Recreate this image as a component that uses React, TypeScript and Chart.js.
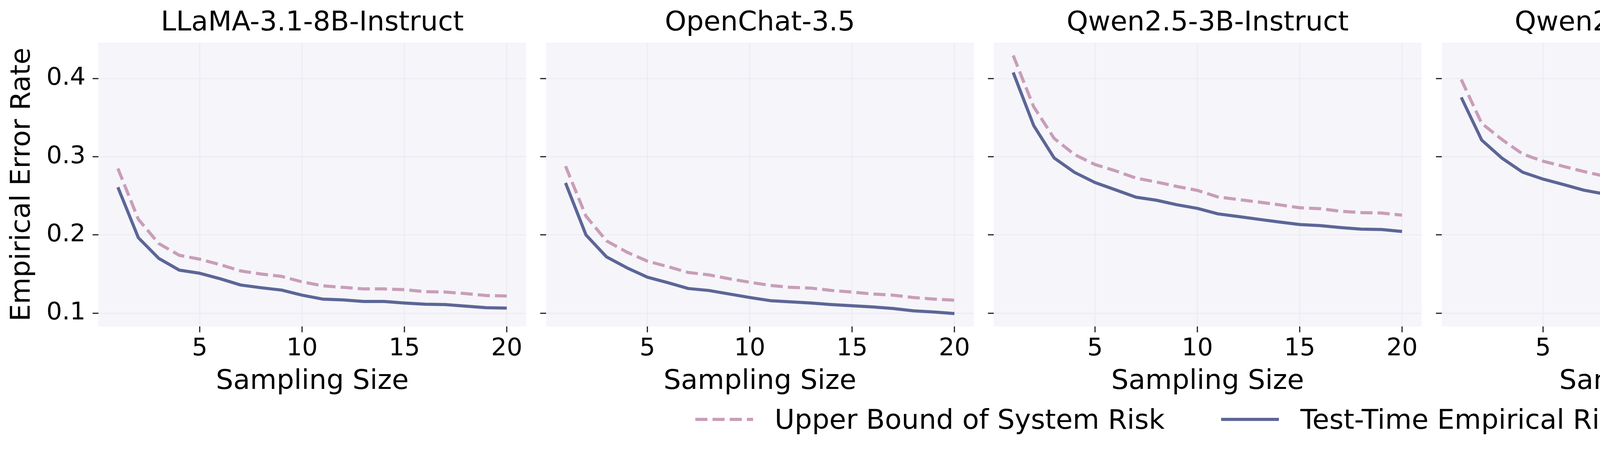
import React, { useEffect, useRef } from 'react';
import { Chart, registerables } from 'chart.js';

Chart.register(...registerables);

// ---------------- data ----------------
const MODELS = [
  'LLaMA-3.1-8B-Instruct',
  'OpenChat-3.5',
  'Qwen2.5-3B-Instruct',
  'Qwen2.5-7B-Instruct',
  'Qwen2.5-14B-Instruct',
];
const SAMPLING_SIZES = [1, 2, 3, 4, 5, 6, 7, 8, 9, 10, 11, 12, 13, 14, 15, 16, 17, 18, 19, 20];
const X_TICKS = [5, 10, 15, 20];
const Y_TICKS = [0.1, 0.2, 0.3, 0.4];
const SERIES_NAMES = ['Upper Bound of System Risk', 'Test-Time Empirical Risk'];
const X_LABEL = 'Sampling Size';
const Y_LABEL = 'Empirical Error Rate';

const LLAMA_UPPER = [0.285, 0.220, 0.189, 0.174, 0.169, 0.162, 0.154, 0.150, 0.147, 0.140, 0.135, 0.133, 0.131, 0.131, 0.130, 0.1275, 0.127, 0.125, 0.1225, 0.122];
const LLAMA_EMPIRICAL = [0.261, 0.1965, 0.170, 0.155, 0.151, 0.144, 0.136, 0.1325, 0.1295, 0.123, 0.118, 0.117, 0.115, 0.115, 0.113, 0.1115, 0.111, 0.109, 0.107, 0.1065];

const OPENCHAT_UPPER = [0.288, 0.224, 0.1925, 0.178, 0.1665, 0.1595, 0.152, 0.149, 0.144, 0.1395, 0.1355, 0.133, 0.132, 0.129, 0.127, 0.1245, 0.123, 0.120, 0.118, 0.1165];
const OPENCHAT_EMPIRICAL = [0.2665, 0.200, 0.172, 0.158, 0.146, 0.139, 0.1315, 0.129, 0.1245, 0.120, 0.116, 0.1145, 0.113, 0.111, 0.1095, 0.108, 0.106, 0.103, 0.1015, 0.0995];

const QWEN3B_UPPER = [0.4295, 0.364, 0.3235, 0.3027, 0.290, 0.282, 0.2727, 0.2677, 0.262, 0.257, 0.2486, 0.2453, 0.242, 0.2386, 0.2348, 0.2336, 0.2303, 0.2286, 0.228, 0.2253];
const QWEN3B_EMPIRICAL = [0.4078, 0.340, 0.2985, 0.280, 0.267, 0.2577, 0.2483, 0.2444, 0.2386, 0.234, 0.227, 0.2236, 0.220, 0.2166, 0.2133, 0.212, 0.2095, 0.2075, 0.207, 0.2045];

const QWEN7B_UPPER = [0.3988, 0.3426, 0.3218, 0.3035, 0.2943, 0.2877, 0.281, 0.2752, 0.2714, 0.269, 0.2656, 0.2606, 0.2591, 0.2569, 0.2544, 0.2522, 0.2478, 0.2469, 0.2466, 0.2464];
const QWEN7B_EMPIRICAL = [0.3759, 0.3213, 0.298, 0.2802, 0.2714, 0.2644, 0.2572, 0.2524, 0.2478, 0.2453, 0.2414, 0.2374, 0.2361, 0.2341, 0.2316, 0.2303, 0.2261, 0.225, 0.225, 0.2245];

const QWEN14B_UPPER = [0.3855, 0.3313, 0.3106, 0.294, 0.2869, 0.283, 0.2764, 0.2719, 0.2677, 0.2647, 0.2631, 0.2581, 0.2564, 0.2547, 0.2532, 0.2507, 0.2478, 0.2456, 0.2441, 0.2428];
const QWEN14B_EMPIRICAL = [0.3647, 0.3126, 0.2913, 0.2757, 0.2664, 0.2627, 0.2561, 0.2516, 0.2469, 0.2441, 0.2433, 0.2386, 0.2373, 0.2353, 0.2344, 0.2316, 0.2278, 0.2253, 0.224, 0.2225];

const UPPER_BOUND = [LLAMA_UPPER, OPENCHAT_UPPER, QWEN3B_UPPER, QWEN7B_UPPER, QWEN14B_UPPER];
const EMPIRICAL = [LLAMA_EMPIRICAL, OPENCHAT_EMPIRICAL, QWEN3B_EMPIRICAL, QWEN7B_EMPIRICAL, QWEN14B_EMPIRICAL];

// ---------------- styling / layout ----------------
const FONT = "'DejaVu Sans', sans-serif";
const DASH_COLOR = '#c99db8';
const SOLID_COLOR = '#5c6696';
const PLOT_BG = '#f5f5fa';
const GRID_COLOR = '#ebebf1';
const TICK_COLOR = '#222222';

const FIG_W = 5962;
const FIG_H = 1178;
const PANEL_LEFTS = [252, 1398, 2544, 3691, 4838];
const PLOT_W = 1095;
const PLOT_BOTTOM = 836;
const CANVAS_H = 1040;

const allValues = [...UPPER_BOUND.flat(), ...EMPIRICAL.flat()];
const dataMin = Math.min(...allValues);
const dataMax = Math.max(...allValues);
const Y_MIN = dataMin - 0.05 * (dataMax - dataMin);
const Y_MAX = dataMax + 0.05 * (dataMax - dataMin);
const xFirst = SAMPLING_SIZES[0];
const xLast = SAMPLING_SIZES[SAMPLING_SIZES.length - 1];
const X_MIN = xFirst - 0.05 * (xLast - xFirst);
const X_MAX = xLast + 0.05 * (xLast - xFirst);

const plotBackground = {
  id: 'plotBackground',
  beforeDraw(chart: any) {
    const { ctx, chartArea } = chart;
    if (!chartArea) return;
    ctx.save();
    ctx.fillStyle = PLOT_BG;
    ctx.fillRect(chartArea.left, chartArea.top, chartArea.right - chartArea.left, chartArea.bottom - chartArea.top);
    ctx.restore();
  },
};

function Panel({ index }: { index: number }) {
  const ref = useRef<HTMLCanvasElement | null>(null);
  const first = index === 0;
  const side = first ? 252 : 20;
  const left = PANEL_LEFTS[index] - side;
  const width = PLOT_W + 2 * side;

  useEffect(() => {
    if (!ref.current) return;
    const chart = new Chart(ref.current, {
      type: 'line',
      data: {
        datasets: [
          {
            label: SERIES_NAMES[0],
            data: SAMPLING_SIZES.map((x, i) => ({ x, y: UPPER_BOUND[index][i] })),
            borderColor: DASH_COLOR,
            backgroundColor: DASH_COLOR,
            borderWidth: 8,
            borderDash: [31, 13],
            borderJoinStyle: 'round',
            pointRadius: 0,
            tension: 0,
            fill: false,
          },
          {
            label: SERIES_NAMES[1],
            data: SAMPLING_SIZES.map((x, i) => ({ x, y: EMPIRICAL[index][i] })),
            borderColor: SOLID_COLOR,
            backgroundColor: SOLID_COLOR,
            borderWidth: 8,
            borderJoinStyle: 'round',
            pointRadius: 0,
            tension: 0,
            fill: false,
          },
        ],
      },
      options: {
        responsive: false,
        animation: false,
        devicePixelRatio: 1,
        layout: { padding: 0 },
        plugins: {
          legend: { display: false },
          tooltip: { enabled: false },
          title: {
            display: true,
            text: MODELS[index],
            color: '#000',
            font: { family: FONT, size: 70, weight: 'normal' },
            padding: { top: 18, bottom: 7 },
          },
        },
        scales: {
          x: {
            type: 'linear',
            min: X_MIN,
            max: X_MAX,
            afterBuildTicks: (axis: any) => {
              axis.ticks = X_TICKS.map((value) => ({ value }));
            },
            afterFit: (axis: any) => {
              axis.height = CANVAS_H - PLOT_BOTTOM;
            },
            border: { display: false },
            grid: {
              color: GRID_COLOR,
              lineWidth: 2.5,
              drawTicks: true,
              tickLength: 15,
              tickColor: TICK_COLOR,
              tickWidth: 3,
            },
            ticks: {
              color: '#000',
              font: { family: FONT, size: 63 },
              padding: 5,
              maxRotation: 0,
              autoSkip: false,
              callback: (v: any) => String(v),
            },
            title: {
              display: true,
              text: X_LABEL,
              color: '#000',
              font: { family: FONT, size: 70 },
              padding: { top: 0, bottom: 20 },
            },
          },
          y: {
            type: 'linear',
            position: 'left',
            min: Y_MIN,
            max: Y_MAX,
            afterBuildTicks: (axis: any) => {
              axis.ticks = Y_TICKS.map((value) => ({ value }));
            },
            afterFit: (axis: any) => {
              axis.width = side;
            },
            border: { display: false },
            grid: {
              color: GRID_COLOR,
              lineWidth: 2.5,
              drawTicks: true,
              tickLength: 15,
              tickColor: TICK_COLOR,
              tickWidth: 3,
            },
            ticks: {
              display: first,
              color: '#000',
              font: { family: FONT, size: 63 },
              padding: 18,
              autoSkip: false,
              callback: (v: any) => Number(v).toFixed(1),
            },
            title: {
              display: first,
              text: Y_LABEL,
              color: '#000',
              font: { family: FONT, size: 70 },
              padding: { top: 16, bottom: 0 },
            },
          },
          y2: {
            type: 'linear',
            position: 'right',
            display: true,
            afterFit: (axis: any) => {
              axis.width = side;
            },
            border: { display: false },
            grid: { display: false, drawTicks: false },
            ticks: { display: false },
          },
        },
      },
      plugins: [plotBackground],
    } as any);
    return () => chart.destroy();
  }, [index]);

  return (
    <canvas
      ref={ref}
      width={width}
      height={CANVAS_H}
      style={{ position: 'absolute', left, top: 0, width, height: CANVAS_H, display: 'block' }}
    />
  );
}

function LegendItem({ left, dashed, label }: { left: number; dashed: boolean; label: string }) {
  return (
    <div
      style={{
        position: 'absolute',
        left,
        top: 1074 - 42,
        height: 84,
        display: 'flex',
        alignItems: 'center',
        fontFamily: FONT,
        fontSize: 70,
        lineHeight: '84px',
        color: '#000',
        whiteSpace: 'nowrap',
      }}
    >
      <svg width={148} height={20} style={{ display: 'block' }}>
        <line
          x1={0}
          y1={10}
          x2={148}
          y2={10}
          stroke={dashed ? DASH_COLOR : SOLID_COLOR}
          strokeWidth={8}
          strokeDasharray={dashed ? '31 13' : undefined}
        />
      </svg>
      <span style={{ marginLeft: 55 }}>{label}</span>
    </div>
  );
}

export default function App() {
  return (
    <div
      style={{
        position: 'absolute',
        left: 0,
        top: 0,
        width: FIG_W,
        height: FIG_H,
        background: '#ffffff',
        overflow: 'hidden',
      }}
    >
      {MODELS.map((_, i) => (
        <Panel key={i} index={i} />
      ))}
      <LegendItem left={1780} dashed={true} label={SERIES_NAMES[0]} />
      <LegendItem left={3126} dashed={false} label={SERIES_NAMES[1]} />
    </div>
  );
}
